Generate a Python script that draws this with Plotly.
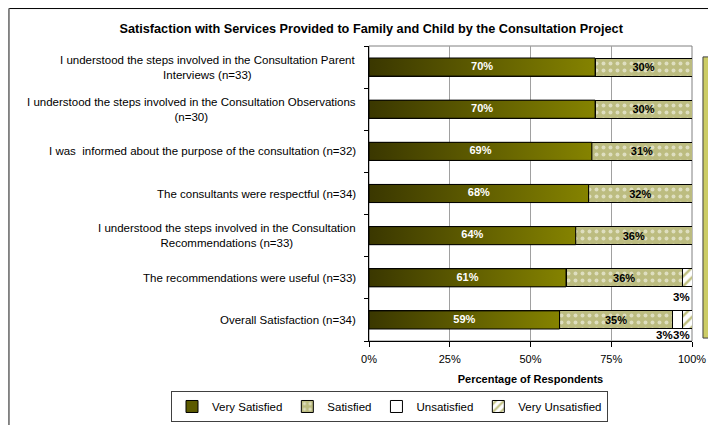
import plotly.graph_objects as go

categories = [
    "I understood the steps involved in the Consultation Parent<br>Interviews (n=33)",
    "I understood the steps involved in the Consultation Observations<br>(n=30)",
    "I was  informed about the purpose of the consultation (n=32)",
    "The consultants were respectful (n=34)",
    "I understood the steps involved in the Consultation<br>Recommendations (n=33)",
    "The recommendations were useful (n=33)",
    "Overall Satisfaction (n=34)",
]
very_satisfied = [70, 70, 69, 68, 64, 61, 59]
satisfied = [30, 30, 31, 32, 36, 36, 35]
unsatisfied = [0, 0, 0, 0, 0, 0, 3]
very_unsatisfied = [0, 0, 0, 0, 0, 3, 3]
series_names = ["Very Satisfied", "Satisfied", "Unsatisfied", "Very Unsatisfied"]
x_ticks = [0, 25, 50, 75, 100]
x_tick_labels = ["0%", "25%", "50%", "75%", "100%"]

FONT = "Liberation Sans, Arial, sans-serif"
BW = 0.43
pos = list(range(len(categories)))
N = len(categories)

fig = go.Figure()

# bars
fig.add_trace(go.Bar(
    y=pos, x=very_satisfied, orientation="h", name=series_names[0], width=BW,
    marker=dict(color="#5c5a00", line=dict(color="black", width=1)),
))
fig.add_trace(go.Bar(
    y=pos, x=satisfied, orientation="h", name=series_names[1], width=BW,
    marker=dict(color="#c0c084", line=dict(color="black", width=1),
                pattern=dict(shape=".", fgcolor="white", bgcolor="#bcbc80", size=7, solidity=0.25)),
    text=[f"{v}%" for v in satisfied], textposition="inside", insidetextanchor="middle",
    textfont=dict(family=FONT, size=11, color="black", weight="bold"),
))
fig.add_trace(go.Bar(
    y=pos, x=unsatisfied, orientation="h", name=series_names[2], width=BW,
    marker=dict(color="white", line=dict(color="black", width=1)),
))
fig.add_trace(go.Bar(
    y=pos, x=very_unsatisfied, orientation="h", name=series_names[3], width=BW,
    marker=dict(color="white", line=dict(color="black", width=1),
                pattern=dict(shape="/", fgcolor="#808000", bgcolor="white", size=7, solidity=0.35)),
))

# gradient overlay for the "Very Satisfied" bars (derived from data)
for i, v in zip(pos, very_satisfied):
    fig.add_trace(go.Scatter(
        x=[0, v, v, 0, 0], y=[i - BW / 2, i - BW / 2, i + BW / 2, i + BW / 2, i - BW / 2],
        mode="lines", fill="toself", line=dict(color="black", width=1),
        fillgradient=dict(type="horizontal", colorscale=[[0, "#3a3700"], [1, "#858300"]]),
        showlegend=False, hoverinfo="skip",
    ))
fig.add_trace(go.Scatter(
    x=[v / 2 for v in very_satisfied], y=pos, mode="text",
    text=[f"{v}%" for v in very_satisfied],
    textfont=dict(family=FONT, size=11, color="white", weight="bold"),
    showlegend=False, hoverinfo="skip",
))

# category labels
for i, c in zip(pos, categories):
    fig.add_annotation(x=0, xref="paper", y=i, yref="y", text=c, showarrow=False,
                       xanchor="right", yanchor="middle", align="center", xshift=-11,
                       font=dict(family=FONT, size=11.5, color="black"))

# small segment labels shown below the bar, kept inside the plot area (right to left)
HALF_W = 2.65
for i in pos:
    segs = []
    base = very_satisfied[i] + satisfied[i]
    for vals in (unsatisfied, very_unsatisfied):
        v = vals[i]
        if v > 0:
            segs.append((base + v / 2, v))
        base += v
    limit = 100
    ytop = min(i + BW / 2 + 0.05, N - 0.5 - 0.34)
    for center, v in reversed(segs):
        right = min(center + HALF_W, limit)
        fig.add_annotation(x=right, y=ytop, text=f"{v}%", showarrow=False,
                           xanchor="right", yanchor="top",
                           font=dict(family=FONT, size=11.5, color="black", weight="bold"))
        limit = right - 2 * HALF_W

# decorative chart-area border, plot-area frame and leftover box
fig.add_shape(type="line", xref="paper", yref="paper", x0=-1.115, x1=1.2, y0=1.127, y1=1.127,
              line=dict(color="black", width=1))
fig.add_shape(type="line", xref="paper", yref="paper", x0=-1.115, x1=-1.115, y0=1.127, y1=-0.4,
              line=dict(color="#808080", width=2))
fig.add_shape(type="rect", xref="paper", yref="paper", x0=0, x1=1, y0=0, y1=1,
              line=dict(color="#808080", width=1), layer="below")
fig.add_shape(type="rect", xref="paper", yref="paper", x0=1.034, x1=1.2, y0=0.01, y1=0.963,
              line=dict(color="#404040", width=1), fillcolor="#cccc66")

fig.update_layout(
    width=708, height=417,
    margin=dict(l=361, r=24, t=38, b=84, autoexpand=False),
    barmode="stack", bargap=0.57,
    paper_bgcolor="white", plot_bgcolor="white",
    font=dict(family=FONT, size=11, color="black"),
    title=dict(text="Satisfaction with Services Provided to Family and Child by the Consultation Project",
               x=0.513, xref="container", xanchor="center", y=0.95, yref="container", yanchor="middle",
               font=dict(family=FONT, size=12.7, color="black", weight="bold")),
    xaxis=dict(range=[0, 100], tickvals=x_ticks, ticktext=x_tick_labels, showgrid=True,
               gridcolor="#a0a0a0", gridwidth=1, zeroline=False, showline=True, linecolor="black",
               ticks="outside", ticklen=5, tickcolor="black", ticklabelstandoff=3,
               title=dict(text="Percentage of Respondents", standoff=11,
                          font=dict(family=FONT, size=11, color="black", weight="bold")),
               tickfont=dict(family=FONT, size=11)),
    yaxis=dict(range=[N - 0.5, -0.5], tickvals=pos, showticklabels=False, ticks="",
               showgrid=False, zeroline=False, showline=True, linecolor="black",
               minor=dict(tickvals=[p - 0.5 for p in pos] + [N - 0.5], ticks="outside",
                          ticklen=4, tickcolor="black")),
    legend=dict(orientation="h", x=-0.613, xanchor="left", y=-0.222, yanchor="middle",
                bordercolor="#404040", borderwidth=1, font=dict(family=FONT, size=11.5),
                traceorder="normal", itemclick=False),
    showlegend=True,
)

fig.write_html("out.html")
